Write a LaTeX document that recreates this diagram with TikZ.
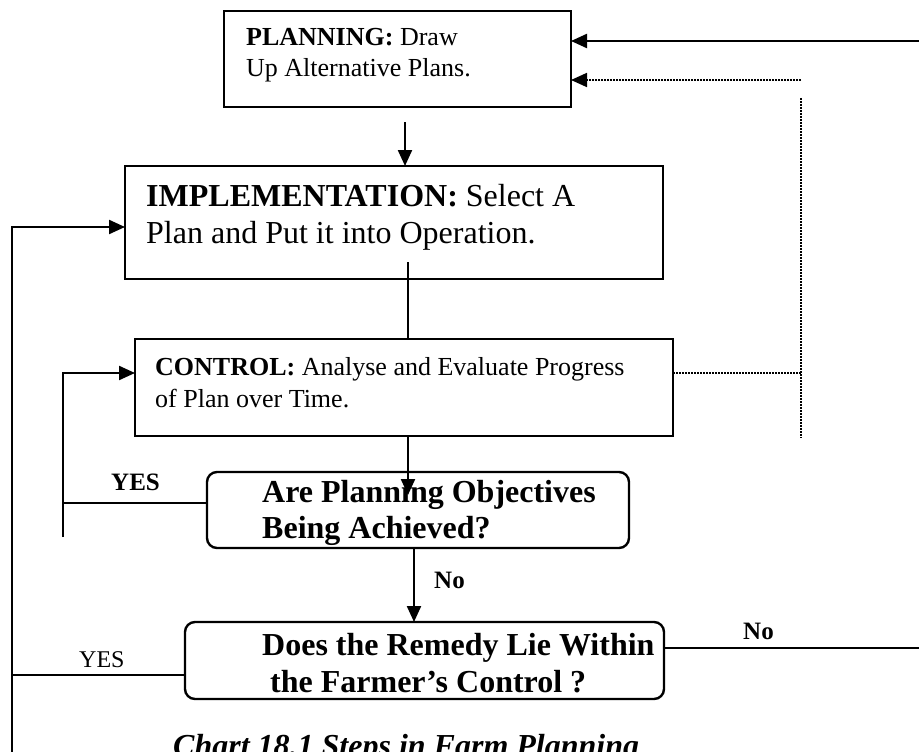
\documentclass[tikz,border=0pt]{standalone}
\usepackage{fontspec}
\setmainfont{Liberation Serif}
\usetikzlibrary{arrows.meta}
\begin{document}
\begin{tikzpicture}[x=1pt,y=-1pt,
  boxline/.style={draw, line width=2.8pt, inner sep=0pt, outer sep=0pt},
  rbox/.style={draw, line width=2.4pt, rounded corners=10pt, inner sep=0pt, outer sep=0pt},
  conn/.style={line width=2.2pt},
  arr/.style={conn, -{Triangle[length=16pt,width=14pt]}},
  dotl/.style={line width=1.8pt, dash pattern=on 1.6pt off 1.4pt},
  txt/.style={anchor=base west, inner sep=0pt},
  fa/.style={font=\fontsize{26}{30}\selectfont},
  fb/.style={font=\fontsize{32}{36}\selectfont},
  fq/.style={font=\fontsize{32}{36}\selectfont\bfseries},
  fl/.style={font=\fontsize{25}{28}\selectfont},
  ]
\useasboundingbox (0,0) rectangle (919,752);

% boxes
\node[boxline, minimum width=347pt, minimum height=96pt] (plan) at (397.5,59) {};
\node[boxline, minimum width=538pt, minimum height=113pt] (impl) at (394,222.5) {};
\node[boxline, minimum width=538pt, minimum height=97pt] (ctrl) at (404,387.5) {};
\node[rbox, minimum width=422pt, minimum height=76pt] (q1) at (418,510) {};
\node[rbox, minimum width=479pt, minimum height=77pt] (q2) at (424.5,660.5) {};

% texts
\node[txt, fa] (plant1) at (246,46) {\textbf{PLANNING:} Draw};
\node[txt, fa] (plant2) at (246,77) {Up Alternative Plans.};
\node[txt, fb] (implt1) at (146,206) {\textbf{IMPLEMENTATION:} Select A};
\node[txt, fb] (implt2) at (146,243) {Plan and Put it into Operation.};
\node[txt, fa] (ctrlt1) at (155,375) {\textbf{CONTROL:} Analyse and Evaluate Progress};
\node[txt, fa] (ctrlt2) at (155,407) {of Plan over Time.};
\node[txt, fq] (q1t1) at (262,502) {Are Planning Objectives};
\node[txt, fq] (q1t2) at (262,538) {Being Achieved?};
\node[txt, fq] (q2t1) at (262,655) {Does the Remedy Lie Within};
\node[txt, fq] (q2t2) at (270,692) {the Farmer’s Control ?};

% labels
\node[txt, font=\fontsize{25}{28}\selectfont\bfseries] (yes1) at (111,490) {YES};
\node[txt, font=\fontsize{25}{28}\selectfont\bfseries] (no1) at (434,588) {No};
\node[txt, font=\fontsize{25}{28}\selectfont\bfseries] (no2) at (743,639) {No};
\node[txt, font=\fontsize{24}{28}\selectfont] (yes2) at (79,667) {YES};
\node[txt, font=\fontsize{32}{36}\selectfont\bfseries\itshape] (cap) at (173,756) {Chart 18.1 Steps in Farm Planning};

% connector end points
\coordinate (tr1) at (919,41);
\coordinate (tr2) at (801,80);
\coordinate (dv1) at (801,98);
\coordinate (dv2) at (801,438);
\coordinate (dh) at (801,373);
\coordinate (p1) at (405,122);
\coordinate (L1) at (12,752);
\coordinate (L2) at (12,227);
\coordinate (i1) at (408,262);
\coordinate (Y1) at (63,537);
\coordinate (Y2) at (63,373);
\coordinate (c1) at (408,495);
\coordinate (y3) at (63,503);
\coordinate (n1) at (414,548);
\coordinate (r1) at (919,648);
\coordinate (l3) at (12,675);

% connectors
\draw[arr] (tr1) -- (tr1 -| plan.east);
\draw[arr, dotl] (tr2) -- (tr2 -| plan.east);
\draw[dotl] (dv1) -- (dv2);
\draw[dotl] (dh -| ctrl.east) -- (dh);
\draw[arr] (p1) -- (p1 |- impl.north);
\draw[arr] (L1) -- (L2) -- (L2 -| impl.west);
\draw[conn] (i1) -- (i1 |- ctrl.north);
\draw[arr] (Y1) -- (Y2) -- (Y2 -| ctrl.west);
\draw[arr] (c1 |- ctrl.south) -- (c1);
\draw[conn] (y3 -| q1.west) -- (y3);
\draw[arr] (n1) -- (n1 |- q2.north);
\draw[conn] (r1 -| q2.east) -- (r1);
\draw[conn] (l3 -| q2.west) -- (l3);
\end{tikzpicture}
\end{document}
